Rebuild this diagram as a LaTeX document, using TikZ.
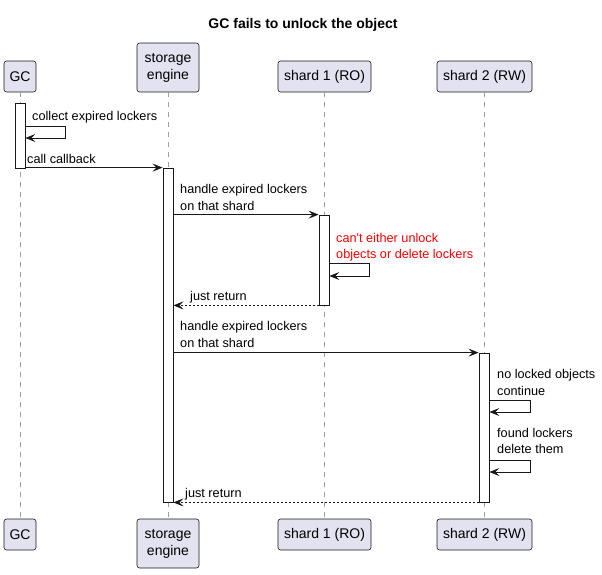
\documentclass[tikz,border=0pt]{standalone}
\usepackage{fontspec}
\setmainfont{Liberation Sans}
\usetikzlibrary{arrows.meta}
\definecolor{partfill}{HTML}{E2E2F0}
\definecolor{partdraw}{HTML}{181818}
\definecolor{lifegray}{HTML}{A0A0A0}
\tikzset{
  part/.style={draw=partdraw, fill=partfill, rounded corners=2.5pt, line width=0.6pt,
    align=center, inner sep=0pt, font=\fontsize{14}{17}\selectfont},
  life/.style={draw=lifegray, dash pattern=on 5pt off 5pt, line width=0.8pt},
  actbox/.style={draw=partdraw, fill=white, line width=0.8pt, minimum width=10pt, inner sep=0pt},
  msg/.style={draw=partdraw, line width=0.8pt, -{Stealth[length=10pt,width=8pt,inset=4pt]}},
  ret/.style={msg, dash pattern=on 2pt off 2pt},
  lbl/.style={anchor=base west, inner sep=0pt, font=\fontsize{12.7}{17}\selectfont},
}
\begin{document}
\begin{tikzpicture}[x=1pt,y=-1pt]
\useasboundingbox (0,0) rectangle (602,574);
\node[anchor=base, inner sep=0pt, font=\fontsize{14}{17}\selectfont\bfseries] (title) at (303,28) {GC fails to unlock the object};
% participants top
\node[part, minimum width=32pt, minimum height=31pt] (gcT) at (20,76.5) {GC};
\node[part, minimum width=62pt, minimum height=49pt] (seT) at (168,67.5) {storage\\engine};
\node[part, minimum width=93pt, minimum height=31pt] (s1T) at (324.5,76.5) {shard 1 (RO)};
\node[part, minimum width=95pt, minimum height=31pt] (s2T) at (484.5,76.5) {shard 2 (RW)};
% participants bottom
\node[part, minimum width=32pt, minimum height=31pt] (gcB) at (20,534.5) {GC};
\node[part, minimum width=62pt, minimum height=49pt] (seB) at (168,543.5) {storage\\engine};
\node[part, minimum width=93pt, minimum height=31pt] (s1B) at (324.5,534.5) {shard 1 (RO)};
\node[part, minimum width=95pt, minimum height=31pt] (s2B) at (484.5,534.5) {shard 2 (RW)};
% lifelines
\draw[life] (gcT.south) -- (gcB.north);
\draw[life] (seT.south) -- (seB.north);
\draw[life] (s1T.south) -- (s1B.north);
\draw[life] (s2T.south) -- (s2B.north);
% activations
\node[actbox, minimum height=65pt] (gcA) at (20,135.5) {};
\node[actbox, minimum height=334pt] (seA) at (168,335) {};
\node[actbox, minimum height=90pt] (s1A) at (324,260) {};
\node[actbox, minimum height=149pt] (s2A) at (484,427.5) {};
% GC self message
\node[lbl] (m1) at (32,120) {collect expired lockers};
\coordinate (c1a) at (65,126);
\coordinate (c1b) at (65,138);
\draw[msg] (gcA.east |- c1a) -- (c1a) -- (c1b) -- (gcA.east |- c1b);
% call callback
\node[lbl] (m2) at (27,163) {call callback};
\draw[msg] (gcA.east |- seA.north) -- (seA.north west);
% handle -> shard1
\node[lbl] (m3) at (180,193) {handle expired lockers};
\node[lbl] (m3b) at (180,210) {on that shard};
\draw[msg] (seA.east |- s1A.north) -- (s1A.north west);
% red self
\node[lbl, text=red] (m4) at (336,242) {can\textquotesingle t either unlock};
\node[lbl, text=red] (m4b) at (336,258) {objects or delete lockers};
\coordinate (c4a) at (369,263);
\coordinate (c4b) at (369,276);
\draw[msg] (s1A.east |- c4a) -- (c4a) -- (c4b) -- (s1A.east |- c4b);
% just return 1
\node[lbl] (m5) at (190,300) {just return};
\draw[ret] (s1A.south west) -- (seA.east |- s1A.south west);
% handle -> shard2
\node[lbl] (m6) at (180,330) {handle expired lockers};
\node[lbl] (m6b) at (180,347) {on that shard};
\draw[msg] (seA.east |- s2A.north) -- (s2A.north west);
% no locked objects
\node[lbl] (m7) at (497,378) {no locked objects};
\node[lbl] (m7b) at (497,395) {continue};
\coordinate (c7a) at (530,400);
\coordinate (c7b) at (530,412);
\draw[msg] (s2A.east |- c7a) -- (c7a) -- (c7b) -- (s2A.east |- c7b);
% found lockers
\node[lbl] (m8) at (497,437) {found lockers};
\node[lbl] (m8b) at (497,453) {delete them};
\coordinate (c8a) at (530,460);
\coordinate (c8b) at (530,472);
\draw[msg] (s2A.east |- c8a) -- (c8a) -- (c8b) -- (s2A.east |- c8b);
% just return 2
\node[lbl] (m9) at (185,497) {just return};
\draw[ret] (s2A.south west) -- (seA.south east);
\end{tikzpicture}
\end{document}
